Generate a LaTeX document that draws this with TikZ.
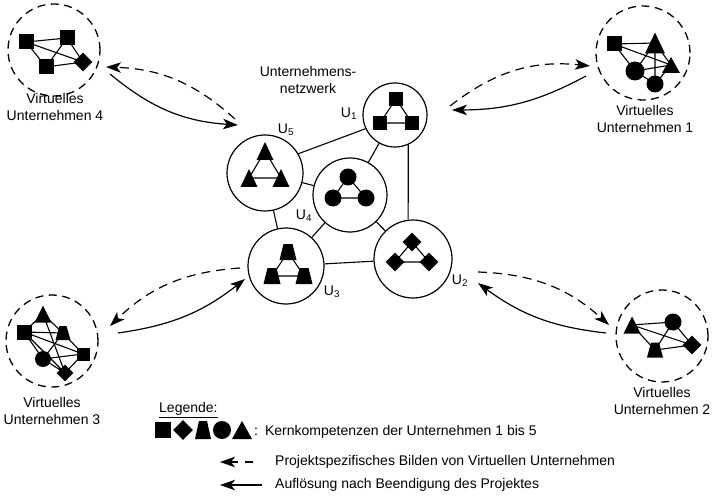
\documentclass[tikz,border=0pt]{standalone}
\usepackage{fontspec}
\setmainfont{Liberation Sans}
\usetikzlibrary{shapes.geometric,arrows.meta}

\begin{document}
\begin{tikzpicture}[x=1pt,y=-1pt,
  every node/.style={font=\fontsize{14}{17.5}\selectfont},
  sqr/.style={rectangle,fill=black,inner sep=0pt,minimum size=14pt},
  dmd/.style={diamond,fill=black,inner sep=0pt,minimum size=19pt},
  trp/.style={rectangle,inner sep=0pt,minimum width=17pt,minimum height=16pt,
    path picture={\fill (path picture bounding box.south west)
      -- (path picture bounding box.south east)
      -- ([xshift=-4pt]path picture bounding box.north east)
      -- ([xshift=4pt]path picture bounding box.north west) -- cycle;}},
  crc/.style={circle,fill=black,inner sep=0pt,minimum size=17pt},
  trg/.style={rectangle,inner sep=0pt,minimum width=17pt,minimum height=18pt,
    path picture={\fill (path picture bounding box.south west)
      -- (path picture bounding box.south east)
      -- (path picture bounding box.north) -- cycle;}},
  unt/.style={circle,draw,line width=1.2pt,inner sep=0pt},
  vu/.style={circle,draw,line width=1.3pt,dash pattern=on 8pt off 5.5pt,inner sep=0pt},
  mini/.style={line width=1.1pt},
  link/.style={line width=1.1pt},
  pfeil/.style={line width=1.2pt,-{Stealth[length=15pt,width=10.5pt,inset=4pt]}},
  gestr/.style={dash pattern=on 9pt off 6pt}
]
\useasboundingbox (0,0) rectangle (717,497);

% ---------- Virtuelles Unternehmen 4 ----------
\node[vu,minimum size=92pt] (V4) at (54,50) {};
\node[sqr,minimum size=15pt] (v4a) at (26,42) {};
\node[sqr,minimum size=15pt] (v4b) at (67,38) {};
\node[sqr,minimum size=15pt] (v4c) at (46,67) {};
\node[dmd] (v4d) at (83,62) {};
\draw[mini] (v4a.center)--(v4b.center) (v4a.center)--(v4c.center) (v4a.center)--(v4d.center)
  (v4b.center)--(v4c.center) (v4b.center)--(v4d.center) (v4c.center)--(v4d.center);
\node[align=center] (t4) at (55,107) {Virtuelles\\Unternehmen 4};

% ---------- Virtuelles Unternehmen 1 ----------
\node[vu,minimum size=94pt] (V1) at (643,53) {};
\node[sqr,minimum size=15pt] (v1a) at (614,44) {};
\node[trg,minimum width=20pt,minimum height=21pt] (v1b) at (655,43) {};
\node[crc,minimum size=19pt] (v1c) at (635,71) {};
\node[trg,minimum width=18pt,minimum height=16pt] (v1d) at (671,65) {};
\node[crc] (v1e) at (655,84) {};
\draw[mini] (v1a.center)--(v1b.center) (v1a.center)--(v1d.center) (v1a.center)--(v1c.center)
  (v1b.center)--(v1c.center) (v1b.center)--(v1e.center) (v1b.center)--(v1d.center)
  (v1c.center)--(v1d.center) (v1c.center)--(v1e.center) (v1e.center)--(v1d.center);
\node[align=center] (t1) at (645,119) {Virtuelles\\Unternehmen 1};

% ---------- Virtuelles Unternehmen 3 ----------
\node[vu,minimum size=92pt] (V3) at (52,341) {};
\node[trg,minimum width=17pt,minimum height=17pt] (v3a) at (43,314) {};
\node[sqr,minimum size=15pt] (v3b) at (24,332) {};
\node[trp,minimum width=15pt,minimum height=14pt] (v3c) at (63,333) {};
\node[sqr,minimum size=13pt] (v3d) at (83,354) {};
\node[crc,minimum size=16pt] (v3e) at (43,359) {};
\node[dmd,minimum size=17pt] (v3f) at (65,373) {};
\draw[mini] (v3a.center)--(v3b.center) (v3a.center)--(v3c.center) (v3a.center)--(v3f.center)
  (v3b.center)--(v3c.center) (v3b.center)--(v3d.center) (v3b.center)--(v3e.center)
  (v3b.center)--(v3f.center) (v3c.center)--(v3e.center) (v3c.center)--(v3d.center)
  (v3e.center)--(v3d.center) (v3e.center)--(v3f.center) (v3d.center)--(v3f.center);
\node[align=center] (t3) at (52,411) {Virtuelles\\Unternehmen 3};

% ---------- Virtuelles Unternehmen 2 ----------
\node[vu,minimum size=92pt] (V2) at (662,336) {};
\node[trg,minimum width=17pt,minimum height=17pt] (v2a) at (632,325) {};
\node[crc] (v2b) at (673,322) {};
\node[dmd] (v2c) at (692,345) {};
\node[trp,minimum width=16pt,minimum height=15pt] (v2d) at (655,350) {};
\draw[mini] (v2a.center)--(v2b.center) (v2a.center)--(v2c.center) (v2a.center)--(v2d.center)
  (v2b.center)--(v2d.center) (v2b.center)--(v2c.center) (v2d.center)--(v2c.center);
\node[align=center] (t2) at (662,401) {Virtuelles\\Unternehmen 2};

% ---------- Unternehmensnetzwerk ----------
\node[align=center] (titel) at (308,80) {Unternehmens-\\netzwerk};

\node[unt,minimum size=64pt] (U1) at (395,115) {};
\node[unt,minimum size=76pt] (U5) at (265,173) {};
\node[unt,minimum size=74pt] (U4) at (350,195) {};
\node[unt,minimum size=76pt] (U3) at (286,266) {};
\node[unt,minimum size=78pt] (U2) at (413,259) {};

\draw[link] (U5.30) -- (U1.205);
\draw[link] (U1) -- (U4);
\draw[link] (U1.-66) -- (U2.97);
\draw[link] (U5) -- (U4);
\draw[link] (U5) -- (U3);
\draw[link] (U4) -- (U3);
\draw[link] (U4) -- (U2);
\draw[link] (U3) -- (U2);

% U1: squares
\node[sqr] (u1a) at (396,99) {};
\node[sqr] (u1b) at (380,123) {};
\node[sqr] (u1c) at (412,123) {};
\draw[mini] (u1a.center)--(u1b.center) (u1a.center)--(u1c.center) (u1b.center)--(u1c.center);
% U5: triangles
\node[trg] (u5a) at (265,151) {};
\node[trg] (u5b) at (249,178) {};
\node[trg] (u5c) at (281,178) {};
\draw[mini] (u5a.center)--(u5b.center) (u5a.center)--(u5c.center) (u5b.center)--(u5c.center);
% U4: circles
\node[crc] (u4a) at (348,177) {};
\node[crc] (u4b) at (333,198) {};
\node[crc] (u4c) at (366,198) {};
\draw[mini] (u4a.center)--(u4b.center) (u4a.center)--(u4c.center) (u4b.center)--(u4c.center);
% U3: trapezia
\node[trp] (u3a) at (288,252) {};
\node[trp] (u3b) at (272,276) {};
\node[trp] (u3c) at (304,276) {};
\draw[mini] (u3a.center)--(u3b.center) (u3a.center)--(u3c.center) (u3b.center)--(u3c.center);
% U2: diamonds
\node[dmd] (u2a) at (412,242) {};
\node[dmd] (u2b) at (395,262) {};
\node[dmd] (u2c) at (429,262) {};
\draw[mini] (u2a.center)--(u2b.center) (u2a.center)--(u2c.center) (u2b.center)--(u2c.center);

\node (lU1) at (349,114) {U\textsubscript{1}};
\node (lU5) at (286,130) {U\textsubscript{5}};
\node (lU4) at (304,216) {U\textsubscript{4}};
\node (lU3) at (332,292) {U\textsubscript{3}};
\node (lU2) at (460,281) {U\textsubscript{2}};

% ---------- Bildung und Aufloesung ----------
\coordinate (a4s) at (235,119);
\coordinate (a4t) at (106,67);
\coordinate (a4u) at (110,74);
\coordinate (a4v) at (238,125);
\draw[pfeil,gestr] (a4s) to[bend right=20] (a4t);
\draw[pfeil] (a4u) to[bend right=18] (a4v);

\coordinate (a1s) at (450,106);
\coordinate (a1t) at (590,66);
\coordinate (a1u) at (586,76);
\coordinate (a1v) at (452,110);
\draw[pfeil,gestr] (a1s) to[bend left=22] (a1t);
\draw[pfeil] (a1u) to[bend left=14] (a1v);

\coordinate (a2s) at (478,272);
\coordinate (a2t) at (609,325);
\coordinate (a2u) at (606,333);
\coordinate (a2v) at (478,283);
\draw[pfeil,gestr] (a2s) to[bend left=20] (a2t);
\draw[pfeil] (a2u) to[bend left=15] (a2v);

\coordinate (a3s) at (240,268);
\coordinate (a3t) at (110,326);
\coordinate (a3u) at (118,333);
\coordinate (a3v) at (245,279);
\draw[pfeil,gestr] (a3s) to[bend right=20] (a3t);
\draw[pfeil] (a3u) to[bend right=15] (a3v);

% ---------- Legende ----------
\node[anchor=west,inner sep=0pt] (leg) at (159,410) {\underline{Legende:}};
\node[sqr,minimum size=16pt] (lsq) at (163,430) {};
\node[dmd,minimum size=20pt] (ldm) at (183,430) {};
\node[trp,minimum width=16pt,minimum height=18pt] (ltp) at (203,430) {};
\node[crc,minimum size=18pt] (lci) at (222,430) {};
\node[trg,minimum width=20pt,minimum height=18pt] (ltg) at (242,430) {};
\node[anchor=west,inner sep=0pt] (lt1) at (254,432) {:\hspace{7pt}Kernkompetenzen der Unternehmen 1 bis 5};

\coordinate (l2s) at (253,462);
\coordinate (l2t) at (220,462);
\draw[pfeil,dash pattern=on 8pt off 7pt] (l2s) -- (l2t);
\node[anchor=west,inner sep=0pt] (lt2) at (275,462) {Projektspezifisches Bilden von Virtuellen Unternehmen};

\coordinate (l3s) at (262,485);
\coordinate (l3t) at (220,485);
\draw[pfeil] (l3s) -- (l3t);
\node[anchor=west,inner sep=0pt] (lt3) at (275,485) {Auflösung nach Beendigung des Projektes};
\end{tikzpicture}
\end{document}
